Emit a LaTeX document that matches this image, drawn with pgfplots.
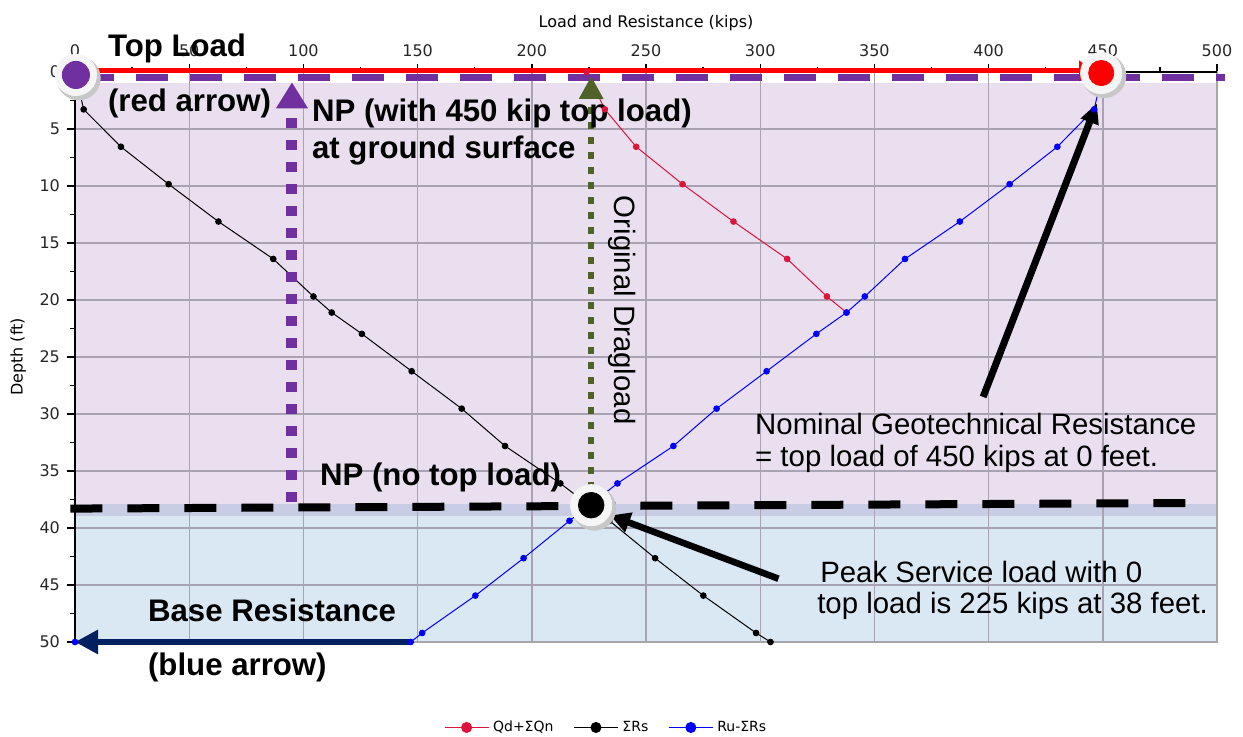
\documentclass[border=0pt]{standalone}
\usepackage{fontspec}
\setmainfont{Liberation Sans}
\newfontfamily\tickfont{DejaVu Sans}
\usepackage{pgfplots}
\pgfplotsset{compat=1.18}
\usetikzlibrary{arrows.meta,calc}
\definecolor{npurple}{HTML}{7030A0}
\definecolor{ogreen}{HTML}{4F6228}
\definecolor{navyb}{HTML}{002060}
\definecolor{purpfill}{HTML}{E9DFEF}
\definecolor{bluefill}{HTML}{DAE8F3}
\definecolor{bandfill}{HTML}{C8CCE4}
\definecolor{gridc}{HTML}{A9A2B2}
\definecolor{qdred}{HTML}{DC143C}
\tikzset{ann/.style={anchor=west, inner sep=0pt, outer sep=0pt},
  bl/.style={ann, font=\bfseries\fontsize{15.6}{18}\selectfont},
  rg/.style={ann, font=\fontsize{14.7}{17}\selectfont}}
\begin{document}
\begin{tikzpicture}
\begin{axis}[
  set layers,
  scale only axis, width=571pt, height=285pt,
  xmin=0, xmax=500, ymin=0, ymax=50, y dir=reverse,
  xtick distance=50, ytick distance=5,
  minor x tick num=1, minor y tick num=1,
  xtick pos=right, xticklabel pos=right, ytick pos=left,
  tick align=outside,
  major tick length=4pt, minor tick length=2.5pt,
  grid=major, major grid style={color=gridc, line width=0.7pt},
  axis line style={draw=gray!70, line width=0.8pt},
  tick style={black, line width=0.7pt},
  ticklabel style={font=\tickfont\fontsize{8}{9}\selectfont, text=black!85},
  /pgf/number format/assume math mode=true,
  xlabel={Load and Resistance (kips)}, ylabel={Depth (ft)},
  label style={font=\tickfont\fontsize{8}{9}\selectfont},
  clip=false,
  legend style={at={(axis cs:233,57.5)}, anchor=center, draw=none, fill=none,
    legend columns=3, font=\tickfont\fontsize{7}{8}\selectfont,
    /tikz/every even column/.append style={column sep=8pt}},
  legend image code/.code={\draw[mark repeat=2,mark phase=2,mark size=2.5pt] plot coordinates {(0pt,0pt)(11pt,0pt)(22pt,0pt)};},
]
\begin{pgfonlayer}{axis background}
\fill[purpfill] (axis cs:0,1) rectangle (axis cs:500,37.93);
\fill[bandfill] (axis cs:0,37.93) rectangle (axis cs:500,38.95);
\fill[bluefill] (axis cs:0,38.95) rectangle (axis cs:500,50);
\end{pgfonlayer}
\coordinate (tl) at (axis cs:0,0);
\coordinate (br) at (axis cs:500,50);

% data series
\addplot[qdred, line width=0.5pt, mark=*, mark size=1.4pt] coordinates {
(224,0) (232,3.28) (245.7,6.56) (266,9.84) (288.3,13.12) (311.8,16.40) (329.2,19.69) (337.8,21.1)};
\addlegendentry{Qd+ΣQn}
\addplot[black, line width=0.5pt, mark=*, mark size=1.4pt] coordinates {
(0,0) (3.8,3.28) (20.1,6.56) (41,9.84) (62.8,13.12) (86.8,16.40) (104.4,19.69) (112.4,21.1) (125.6,22.97) (147.4,26.25) (169.3,29.53) (188.3,32.81) (212.5,36.09) (234,39.37) (254,42.65) (275.1,45.93) (298.2,49.21) (304.5,50)};
\addlegendentry{ΣRs}
\addplot[blue, line width=0.5pt, mark=*, mark size=1.4pt] coordinates {
(450,0) (446.2,3.28) (430.1,6.56) (409.2,9.84) (387.4,13.12) (363.4,16.40) (345.8,19.69) (337.8,21.1) (324.6,22.97) (302.8,26.25) (280.9,29.53) (262,32.81) (237.5,36.09) (216.5,39.37) (196.4,42.65) (175.3,45.93) (152,49.21) (147,50) (0,50)};
\addlegendentry{Ru-ΣRs}

% black top / left axis lines
\draw[black, line width=0.9pt] (axis cs:0,50) -- (axis cs:0,0) -- (axis cs:500,0);

% annotation lines and arrows
\addplot[forget plot, npurple, line width=3.5pt, dash pattern=on 16pt off 11pt] coordinates {(3,0.5) (503.5,0.5)};
\addplot[forget plot, black, line width=4pt, dash pattern=on 16pt off 12.5pt] coordinates {(-2,38.3) (496,37.8)};
\addplot[forget plot, npurple, line width=5.5pt, dash pattern=on 5pt off 6pt, -{Triangle[length=13pt,width=15pt]}] coordinates {(95,37.7) (95,0.9)};
\addplot[forget plot, ogreen, line width=3pt, dash pattern=on 3.5pt off 4pt, -{Triangle[length=11.5pt,width=11.5pt]}] coordinates {(226,36.6) (226,0.35)};
\addplot[forget plot, navyb, line width=3pt, -{Triangle[length=11.5pt,width=11.5pt]}] coordinates {(146.7,50) (0,50)};
\addplot[forget plot, black, line width=3.3pt, -{Triangle[length=10pt,width=10pt]}] coordinates {(308,44.45) (234.3,38.9)};
\addplot[forget plot, black, line width=3.5pt, -{Triangle[length=10pt,width=9pt]}] coordinates {(397.6,28.5) (447.4,2.75)};

% highlighted points with halo
\addplot[forget plot, only marks, mark=*, mark size=10.8pt, color=black!22] coordinates {(1.6,0.55) (450.6,0.35) (227.3,38.3)};
\addplot[forget plot, only marks, mark=*, mark size=10.3pt, color=black!4] coordinates {(0.4,0.26) (449.3,0.09) (226,38.0)};
\addplot[forget plot, red, line width=2.4pt, -{Triangle[length=7pt,width=10pt]}] coordinates {(0,-0.1) (445.8,-0.1)};
\addplot[forget plot, only marks, mark=*, mark size=6.8pt, color=npurple] coordinates {(0.4,0.26)};
\addplot[forget plot, only marks, mark=*, mark size=6.3pt, color=red] coordinates {(449.3,0.09)};
\addplot[forget plot, only marks, mark=*, mark size=6.4pt, color=black] coordinates {(226,38.0)};

% texts
\node[bl] at (axis cs:14.45,-2.1) {Top Load};
\node[bl] at (axis cs:14.45,2.8) {(red arrow)};
\node[bl] at (axis cs:103.8,3.6) {NP (with 450 kip top load)};
\node[bl] at (axis cs:103.8,6.85) {at ground surface};
\node[bl] at (axis cs:107.3,35.6) {NP (no top load)};
\node[bl] at (axis cs:32,47.2) {Base Resistance};
\node[bl] at (axis cs:32,52.2) {(blue arrow)};
\node[rotate=-90, inner sep=0pt, font=\fontsize{14.7}{17}\selectfont] at (axis cs:239.5,20.9) {Original Dragload};
\node[rg] at (axis cs:297.8,30.9) {Nominal Geotechnical Resistance};
\node[rg] at (axis cs:297.8,33.9) {= top load of 450 kips at 0 feet.};
\node[rg] at (axis cs:326.3,43.9) {Peak Service load with 0};
\node[rg] at (axis cs:325,46.8) {top load is 225 kips at 38 feet.};
\end{axis}
\pgfresetboundingbox
\path[use as bounding box] ($(tl)+(-37.5pt,36pt)$) rectangle ($(br)+(13pt,-47.15pt)$);
\end{tikzpicture}
\end{document}
